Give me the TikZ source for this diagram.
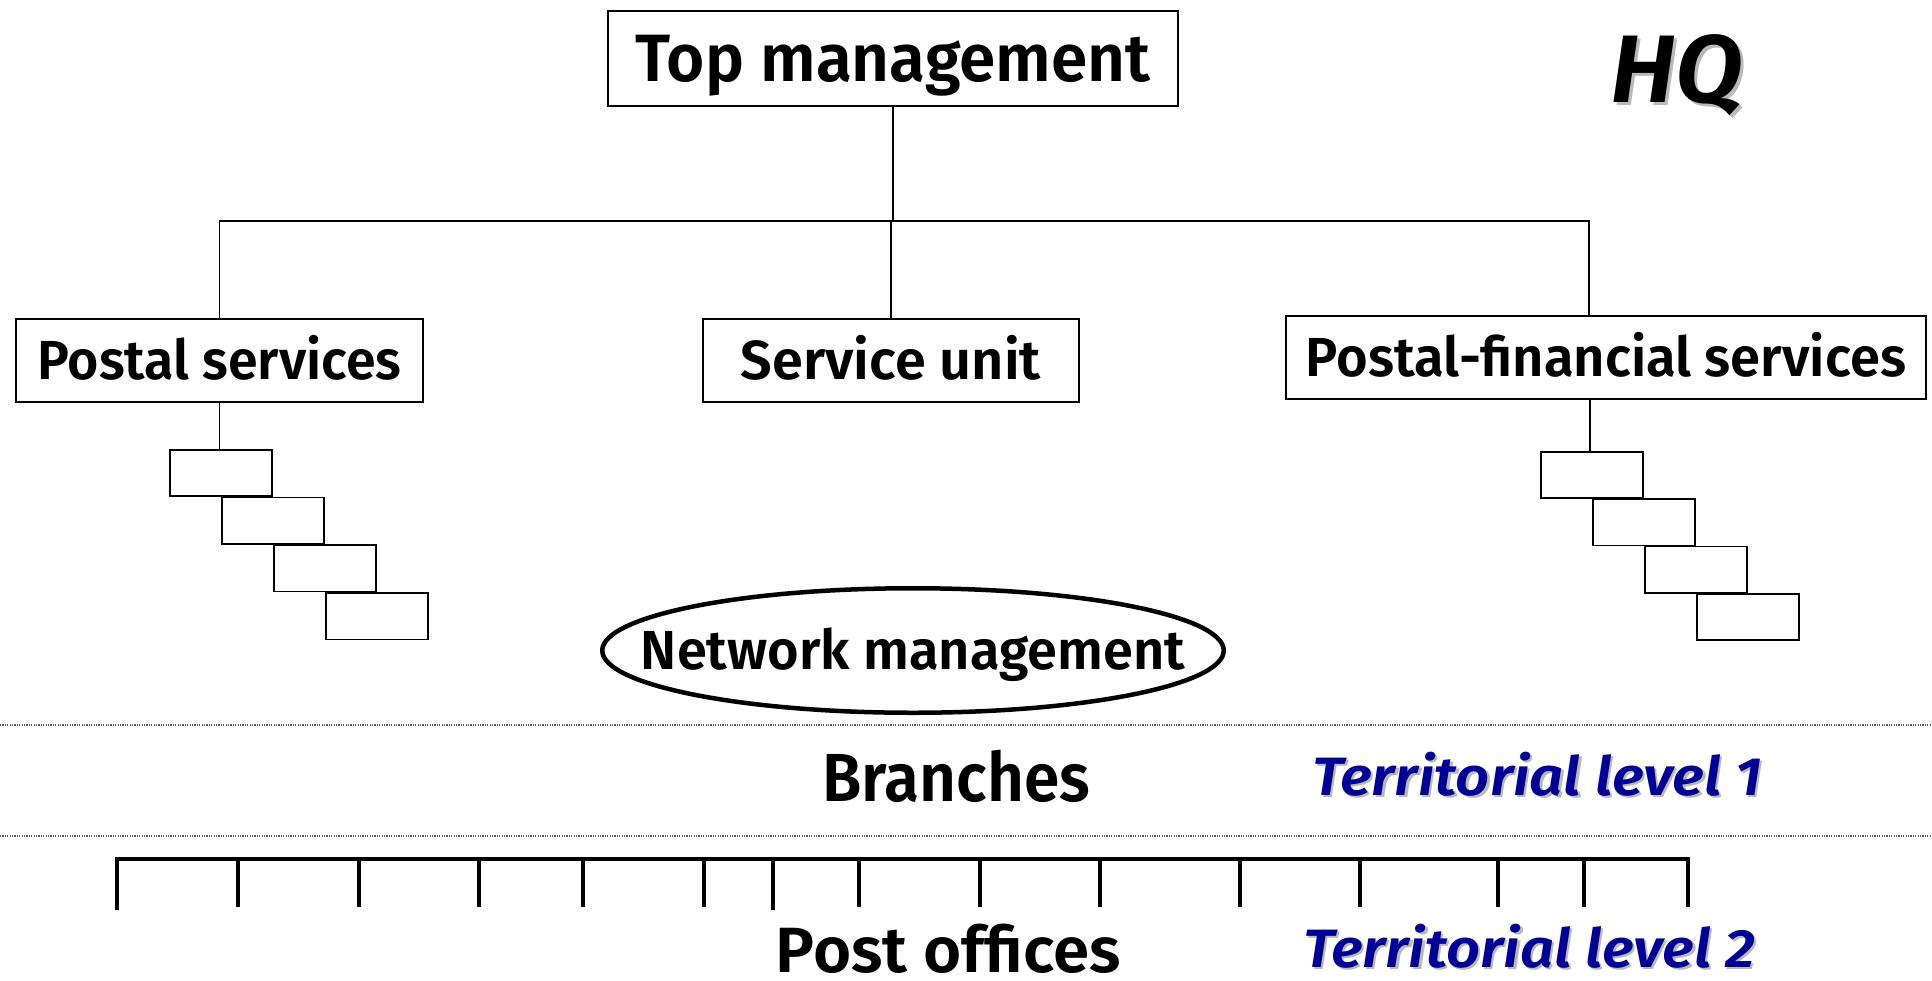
\documentclass[tikz,border=0pt]{standalone}
\usepackage{fontspec}
\setmainfont{Fira Sans}[BoldFont={Fira Sans SemiBold}, BoldItalicFont={Fira Sans SemiBold Italic}]
\usepackage{graphicx}
\usetikzlibrary{shapes.geometric}
\definecolor{navy}{RGB}{0,0,153}
\definecolor{shadowgray}{RGB}{185,185,185}
\definecolor{dotgray}{RGB}{90,90,90}
\newcommand\fitto[2]{\resizebox{#1}{\height}{#2}}
\begin{document}
\begin{tikzpicture}[x=1pt,y=-1pt,
  box/.style={draw, line width=1.6pt, inner sep=0pt, text depth=0pt,
    font=\bfseries\fontsize{55}{60}\selectfont, text height=37.9pt},
  bigbox/.style={box, font=\bfseries\fontsize{67}{72}\selectfont, text height=46.2pt},
  stair/.style={draw, line width=1.6pt, inner sep=0pt, minimum width=102.4pt, minimum height=46.4pt},
  link/.style={line width=1.4pt},
  comb/.style={line width=3.2pt},
  dots/.style={dotgray, line width=1.2pt, dash pattern=on 1.2pt off 1.2pt},
  lbl/.style={inner sep=0pt, anchor=base, font=\bfseries\fontsize{68}{72}\selectfont},
  terr/.style={inner sep=0pt, anchor=base, font=\bfseries\itshape\fontsize{54}{60}\selectfont},
  hqs/.style={inner sep=0pt, anchor=base, font=\bfseries\itshape\fontsize{96}{100}\selectfont}
]
\useasboundingbox (0,0) rectangle (1932,980);

% boxes
\node[bigbox, minimum width=570.4pt, minimum height=95.4pt] (top) at (893,58.5) {\fitto{515pt}{Top management}};
\node[box, minimum width=407.4pt, minimum height=83.4pt] (ps) at (219.5,360.5) {\fitto{364pt}{Postal services}};
\node[box, minimum width=376.4pt, minimum height=83.4pt] (su) at (891,360.5) {\fitto{300pt}{Service unit}};
\node[box, minimum width=640.4pt, minimum height=83.4pt] (pfs) at (1606,357.5) {\fitto{600pt}{Postal-financial services}};

% HQ
\node[hqs, text=shadowgray] (hqshadow) at (1680,105) {\fitto{133pt}{HQ}};
\node[hqs] (hq) at (1677,102) {\fitto{133pt}{HQ}};

% connectors
\coordinate (bus) at (893,221);
\coordinate (pfsin) at (1589,315);
\draw[link] (top.south) -- (bus);
\draw[link] (ps.north) |- (bus) -| (pfsin);
\draw[link] (su.north) -- (su.north |- bus);

% stairs left
\node[stair] (s1) at (221,473) {};
\node[stair] (s2) at (273,520.7) {};
\node[stair] (s3) at (325,568.4) {};
\node[stair] (s4) at (377,616.1) {};
\draw[link] (ps.south) -- (ps.south |- s1.north);

% stairs right
\node[stair] (r1) at (1592,475) {};
\node[stair] (r2) at (1644,522.3) {};
\node[stair] (r3) at (1696,569.6) {};
\node[stair] (r4) at (1748,616.9) {};
\coordinate (pfsout) at (1590,400);
\draw[link] (pfsout) -- (pfsout |- r1.north);

% network management
\node[ellipse, draw, line width=4.5pt, inner sep=0pt, minimum width=621.5pt, minimum height=124.5pt] (nm) at (913,650.5) {};
\node[inner sep=0pt, font=\bfseries\fontsize{55}{60}\selectfont, text height=37.9pt, text depth=0pt] (nmtext) at (nm.center)
  {\fitto{544pt}{Network management}};

% dotted separators
\coordinate (d1l) at (0,725);
\coordinate (d1r) at (1932,725);
\coordinate (d2l) at (0,836);
\coordinate (d2r) at (1932,836);
\draw[dots] (d1l) -- (d1r);
\draw[dots] (d2l) -- (d2r);

% level labels
\node[lbl] (br) at (956,801) {\fitto{268pt}{Branches}};
\node[terr, text=shadowgray] (t1s) at (1539.5,797.5) {\fitto{450pt}{Territorial level 1}};
\node[terr, text=navy] (t1) at (1537,795) {\fitto{450pt}{Territorial level 1}};

% post offices comb
\draw[comb] (117,910) -- (117,859) -- (1688,859) -- (1688,907);
\foreach \x in {238,359,479,583,704,859,980,1100,1240,1360,1498,1584}
  \draw[comb] (\x,859) -- (\x,907);
\draw[comb] (773,859) -- (773,910);

\node[lbl, font=\bfseries\fontsize{64}{70}\selectfont] (po) at (948.5,972) {\fitto{345pt}{Post offices}};
\node[terr, text=shadowgray] (t2s) at (1531.5,969.5) {\fitto{452pt}{Territorial level 2}};
\node[terr, text=navy] (t2) at (1529,967) {\fitto{452pt}{Territorial level 2}};
\end{tikzpicture}
\end{document}
